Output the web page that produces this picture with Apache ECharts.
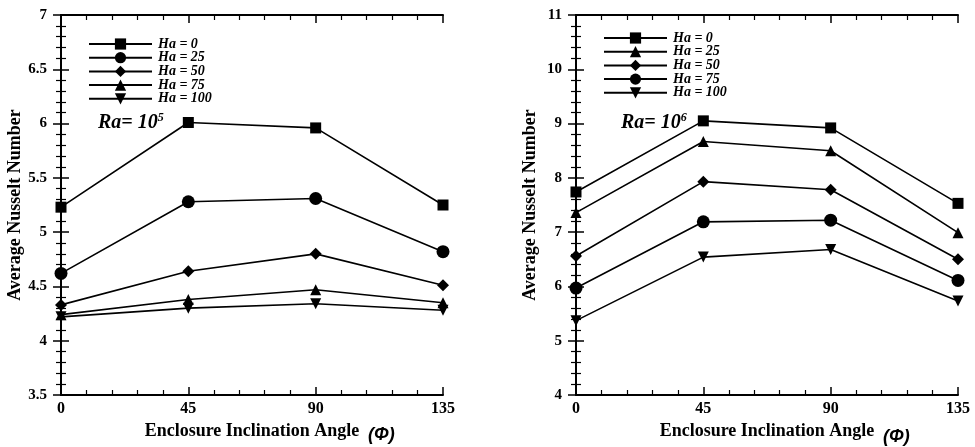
<!DOCTYPE html>
<html>
<head>
<meta charset="utf-8">
<script src="https://cdn.jsdelivr.net/npm/echarts@6/dist/echarts.min.js"></script>
<style>
html, body { margin: 0; padding: 0; background: #fff; }
#chart { width: 975px; height: 447px; }
</style>
</head>
<body>
<div id="chart"></div>
<script>
// inclination angles (x axis)
var angles = [0, 45, 90, 135];

// Ra = 1e5 (left panel)
var ra5Ha0 = [5.23, 6.01, 5.96, 5.25];
var ra5Ha25 = [4.62, 5.28, 5.31, 4.82];
var ra5Ha50 = [4.33, 4.64, 4.80, 4.51];
var ra5Ha75 = [4.24, 4.38, 4.47, 4.35];
var ra5Ha100 = [4.22, 4.30, 4.34, 4.28];

// Ra = 1e6 (right panel)
var ra6Ha0 = [7.74, 9.05, 8.92, 7.53];
var ra6Ha25 = [7.36, 8.67, 8.50, 6.99];
var ra6Ha50 = [6.56, 7.93, 7.78, 6.50];
var ra6Ha75 = [5.97, 7.19, 7.22, 6.11];
var ra6Ha100 = [5.37, 6.54, 6.68, 5.73];

var haLabels = ['Ha = 0', 'Ha = 25', 'Ha = 50', 'Ha = 75', 'Ha = 100'];

var serif = 'Liberation Serif';
var downTri = 'path://M0,0L10,0L5,9Z';

function pts(vals) {
  return vals.map(function (v, i) { return [angles[i], v]; });
}

function makeSeries(label, tag, vals, symbol, size, axisIdx) {
  return {
    name: label + '#' + tag,
    type: 'line',
    xAxisIndex: axisIdx * 2,
    yAxisIndex: axisIdx * 2,
    data: pts(vals),
    symbol: symbol,
    symbolSize: size,
    showSymbol: true,
    color: '#000',
    lineStyle: { color: '#000', width: 1.6 },
    itemStyle: { color: '#000' },
    z: 3
  };
}

// ticks point into the plot on all four sides
var tickOpts = {
  axisTick: { show: true, inside: true, length: 8, lineStyle: { color: '#000', width: 1.5 } },
  minorTick: { show: true, splitNumber: 5, length: 5, lineStyle: { color: '#000', width: 1.2 } }
};

function xAxes(grid) {
  var base = Object.assign({
    type: 'value', gridIndex: grid, min: 0, max: 135, interval: 45,
    axisLine: { show: true, lineStyle: { color: '#000', width: 2 } },
    splitLine: { show: false }
  }, tickOpts);
  var bottom = Object.assign({}, base, {
    position: 'bottom',
    axisLabel: { color: '#000', fontFamily: serif, fontWeight: 'bold', fontSize: 16, margin: 6 },
    name: 'Enclosure Inclination Angle', nameLocation: 'middle', nameGap: 25,
    nameTextStyle: { color: '#000', fontFamily: serif, fontWeight: 'bold', fontSize: 18 }
  });
  var top = Object.assign({}, base, { position: 'top', axisLabel: { show: false } });
  return [bottom, top];
}

function yAxes(grid, min, max, interval) {
  var base = Object.assign({
    type: 'value', gridIndex: grid, min: min, max: max, interval: interval,
    axisLine: { show: true, lineStyle: { color: '#000', width: 2 } },
    splitLine: { show: false }
  }, tickOpts);
  var left = Object.assign({}, base, {
    position: 'left',
    axisLabel: { color: '#000', fontFamily: serif, fontWeight: 'bold', fontSize: 15, margin: 14 },
    name: 'Average Nusselt Number', nameLocation: 'middle', nameGap: 37,
    nameTextStyle: { color: '#000', fontFamily: serif, fontWeight: 'bold', fontSize: 18 }
  });
  var right = Object.assign({}, base, { position: 'right', axisLabel: { show: false } });
  return [left, right];
}

var leftSeries = [
  makeSeries(haLabels[0], 'a', ra5Ha0, 'rect', 11, 0),
  makeSeries(haLabels[1], 'a', ra5Ha25, 'circle', 13, 0),
  makeSeries(haLabels[2], 'a', ra5Ha50, 'diamond', 12, 0),
  makeSeries(haLabels[3], 'a', ra5Ha75, 'triangle', 11, 0),
  makeSeries(haLabels[4], 'a', ra5Ha100, downTri, 11, 0)
];
var rightSeries = [
  makeSeries(haLabels[0], 'b', ra6Ha0, 'rect', 11, 1),
  makeSeries(haLabels[1], 'b', ra6Ha25, 'triangle', 11, 1),
  makeSeries(haLabels[2], 'b', ra6Ha50, 'diamond', 12, 1),
  makeSeries(haLabels[3], 'b', ra6Ha75, 'circle', 13, 1),
  makeSeries(haLabels[4], 'b', ra6Ha100, downTri, 11, 1)
];

function legendFor(series, left, top) {
  return {
    data: series.map(function (s) { return s.name; }),
    orient: 'vertical', left: left, top: top,
    itemWidth: 63, itemHeight: 14, itemGap: -0.3,
    selectedMode: false,
    formatter: function (n) { return n.replace(/#.*/, ''); },
    textStyle: { color: '#000', fontFamily: serif, fontWeight: 'bold', fontStyle: 'italic', fontSize: 14, lineHeight: 13, padding: [0, 0, 0, 1] }
  };
}

function raText(left, top, exp) {
  return {
    type: 'text', left: left, top: top,
    style: {
      text: '{a|Ra= 10}{b|' + exp + '}',
      rich: {
        a: { fontFamily: serif, fontWeight: 'bold', fontStyle: 'italic', fontSize: 20, fill: '#000' },
        b: { fontFamily: serif, fontWeight: 'bold', fontStyle: 'italic', fontSize: 12, fill: '#000', verticalAlign: 'top', padding: [0, 0, 10, 0] }
      }
    }
  };
}

function phiText(left, top) {
  return {
    type: 'text', left: left, top: top,
    style: { text: '(\u03A6)', fontFamily: 'Liberation Sans', fontWeight: 'bold', fontStyle: 'italic', fontSize: 18, fill: '#000' }
  };
}

var myChart = echarts.init(document.getElementById('chart'));

var option = {
  animation: false,
  backgroundColor: '#fff',
  grid: [
    { left: 61, top: 15, width: 382, height: 380 },
    { left: 576, top: 15, width: 382, height: 380 }
  ],
  xAxis: xAxes(0).concat(xAxes(1)),
  yAxis: yAxes(0, 3.5, 7, 0.5).concat(yAxes(1, 4, 11, 1)),
  legend: [legendFor(leftSeries, 83, 32), legendFor(rightSeries, 598, 26)],
  graphic: [
    raText(98, 112, 5),
    raText(621, 112, 6),
    phiText(368, 426),
    phiText(883, 428)
  ],
  series: leftSeries.concat(rightSeries)
};

myChart.setOption(option);
</script>
</body>
</html>
